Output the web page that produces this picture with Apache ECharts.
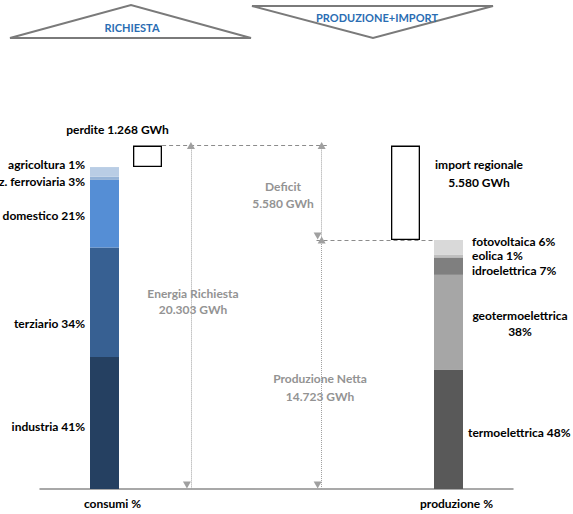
<!DOCTYPE html>
<html><head><meta charset="utf-8">
<script src="https://cdn.jsdelivr.net/npm/echarts@6/dist/echarts.min.js"></script>
<style>html,body{margin:0;padding:0;background:#fff}#c{width:573px;height:514px}</style>
</head><body><div id="c"></div>
<script>
// ---- data ----
const categories = ['', 'consumi %', '', '', '', '', '', '', '', 'produzione %', ''];
const richiestaTotale = 20303;   // GWh
const perdite = 1268;            // GWh
const importRegionale = 5580;    // GWh
const produzioneNetta = 14723;   // GWh
const consumiLabels = ['industria 41%', 'terziario 34%', 'domestico 21%', 'traz. ferroviaria 3%', 'agricoltura 1%'];
const consumiPct = [41, 34, 21, 1, 3];          // band heights as drawn (bottom to top)
const produzioneLabels = ['termoelettrica 48%', 'geotermoelettrica\n38%', 'idroelettrica 7%', 'eolica 1%', 'fotovoltaica 6%'];
const produzionePct = [48, 38, 7, 1, 6];        // bottom to top

// ---- styles ----
const FONT = 'Lato, "Liberation Sans", sans-serif';
const consColors = ['#254061', '#376092', '#558ed5', '#95b3d7', '#b9cde5'];
const consOffsets = [3, 21, 2, 3, -7];
const prodColors = ['#595959', '#a6a6a6', '#7f7f7f', '#bfbfbf', '#d9d9d9'];
const prodOffsets = [3, 1, 4, -1, -6];
const prodDist = [5, 57, 9, 9, 9];
const prodAlign = ['left', 'center', 'left', 'left', 'left'];
const prodLineH = [13, 16, 13, 13, 13];

function fmt(v) { return String(v).replace(/\B(?=(\d{3})+(?!\d))/g, '.'); }
function at(idx, v) { const a = categories.map(() => '-'); a[idx] = v; return a; }
const consumiTot = richiestaTotale - perdite;
const lbl = { fontFamily: FONT, fontWeight: 'bold', fontSize: 12, color: '#000' };

const series = [];
consumiPct.forEach((p, i) => series.push({
  type: 'bar', stack: 's', barWidth: 29, z: 3, clip: false,
  data: at(1, consumiTot * p / 100),
  itemStyle: { color: consColors[i] },
  label: Object.assign({ show: true, position: 'left', distance: 5, lineHeight: 13, offset: [0, consOffsets[i]], formatter: consumiLabels[i] }, lbl)
}));
const baseData = at(2, consumiTot); baseData[8] = produzioneNetta;
series.push({ type: 'bar', stack: 's', barWidth: 29, data: baseData, itemStyle: { color: 'rgba(0,0,0,0)' }, silent: true, z: 3 });
series.push({
  type: 'bar', stack: 's', barWidth: 29, z: 3, clip: false,
  data: at(2, perdite),
  itemStyle: { color: '#fff', borderColor: '#000', borderWidth: 1.3 },
  label: Object.assign({ show: true, position: 'top', distance: 10, offset: [-30, 0], formatter: 'perdite ' + fmt(perdite) + ' GWh' }, lbl)
});
series.push({
  type: 'bar', stack: 's', barWidth: 29, z: 3, clip: false,
  data: at(8, importRegionale),
  itemStyle: { color: '#fff', borderColor: '#000', borderWidth: 1.3 },
  label: Object.assign({ show: true, position: 'right', distance: 59, align: 'center', offset: [0, -19], lineHeight: 18,
    formatter: 'import regionale\n' + fmt(importRegionale) + ' GWh' }, lbl)
});
produzionePct.forEach((p, i) => series.push({
  type: 'bar', stack: 's', barWidth: 29, z: 3, clip: false,
  data: at(9, produzioneNetta * p / 100),
  itemStyle: { color: prodColors[i] },
  label: Object.assign({ show: true, position: 'right', distance: prodDist[i], align: prodAlign[i], lineHeight: prodLineH[i],
    offset: [0, prodOffsets[i]], formatter: produzioneLabels[i] }, lbl)
}));

// annotation lines (dashed guides and dotted double arrows)
const dashed = { type: [4, 3], color: '#8c8c8c', width: 1 };
const dotted = { type: [1, 1], color: '#a0a0a0', width: 1 };
const arrowSym = { symbol: ['triangle', 'triangle'], symbolSize: [8, 7], symbolOffset: [0, 4] };
series.push({
  type: 'line', xAxisIndex: 1, yAxisIndex: 0, data: [], z: 1, silent: true,
  markLine: {
    silent: true, animation: false, symbol: ['none', 'none'], label: { show: false },
    data: [
      [{ coord: [2.34, richiestaTotale], lineStyle: dashed }, { coord: [6.17, richiestaTotale] }],
      [{ coord: [5.93, produzioneNetta], lineStyle: dashed }, { coord: [8.64, produzioneNetta] }]
    ]
  }
});
function arrowSeries(x, y0, y1) {
  return {
    type: 'line', xAxisIndex: 1, yAxisIndex: 0, data: [], z: 1, silent: true,
    markLine: Object.assign({
      silent: true, animation: false, label: { show: false }, lineStyle: dotted,
      itemStyle: { color: '#8c8c8c' },
      data: [[{ coord: [x, y0] }, { coord: [x, y1] }]]
    }, arrowSym)
  };
}
series.push(arrowSeries(3.01, richiestaTotale, 0));
series.push(arrowSeries(6.05, richiestaTotale, produzioneNetta));
series.push(arrowSeries(6.05, produzioneNetta, 0));

const grayTxt = { font: 'bold 12px ' + FONT, fill: '#939393', align: 'center', verticalAlign: 'middle' };
const option = {
  animation: false,
  grid: { left: 40, right: 60, top: 100, bottom: 25 },
  xAxis: [
    { type: 'category', data: categories, axisTick: { show: false },
      axisLine: { lineStyle: { color: '#8c8c8c', width: 1.5 } },
      axisLabel: { interval: 0, margin: 8, padding: [0, 0, 0, 16], fontFamily: FONT, fontWeight: 'bold', fontSize: 12, color: '#000' } },
    { type: 'value', min: -0.5, max: 10.5, show: false }
  ],
  yAxis: { type: 'value', min: 0, max: 23000, show: false },
  series: series,
  graphic: [
    { type: 'polygon', shape: { points: [[10, 38], [131, 5], [251, 38]] }, style: { fill: '#fff', stroke: '#7a7a7a', lineWidth: 2 } },
    { type: 'polygon', shape: { points: [[252, 6], [493, 6], [373, 38]] }, style: { fill: '#fff', stroke: '#7a7a7a', lineWidth: 2 } },
    { type: 'text', style: { text: 'RICHIESTA', x: 132, y: 27, align: 'center', verticalAlign: 'middle', font: 'bold 11px ' + FONT, fill: '#2a6db3' } },
    { type: 'text', style: { text: 'PRODUZIONE+IMPORT', x: 377, y: 17, align: 'center', verticalAlign: 'middle', font: 'bold 11px ' + FONT, fill: '#2a6db3' } },
    { type: 'text', z: 5, style: Object.assign({ text: 'Energia Richiesta\n' + fmt(richiestaTotale) + ' GWh', x: 193, y: 301, lineHeight: 16 }, grayTxt) },
    { type: 'text', z: 5, style: Object.assign({ text: 'Deficit\n' + fmt(importRegionale) + ' GWh', x: 283, y: 195, lineHeight: 17 }, grayTxt) },
    { type: 'text', z: 5, style: Object.assign({ text: 'Produzione Netta\n' + fmt(produzioneNetta) + ' GWh', x: 320, y: 387, lineHeight: 18 }, grayTxt) }
  ]
};
const chart = echarts.init(document.getElementById('c'), null, { renderer: 'svg' });
chart.setOption(option);
</script>
</body></html>
